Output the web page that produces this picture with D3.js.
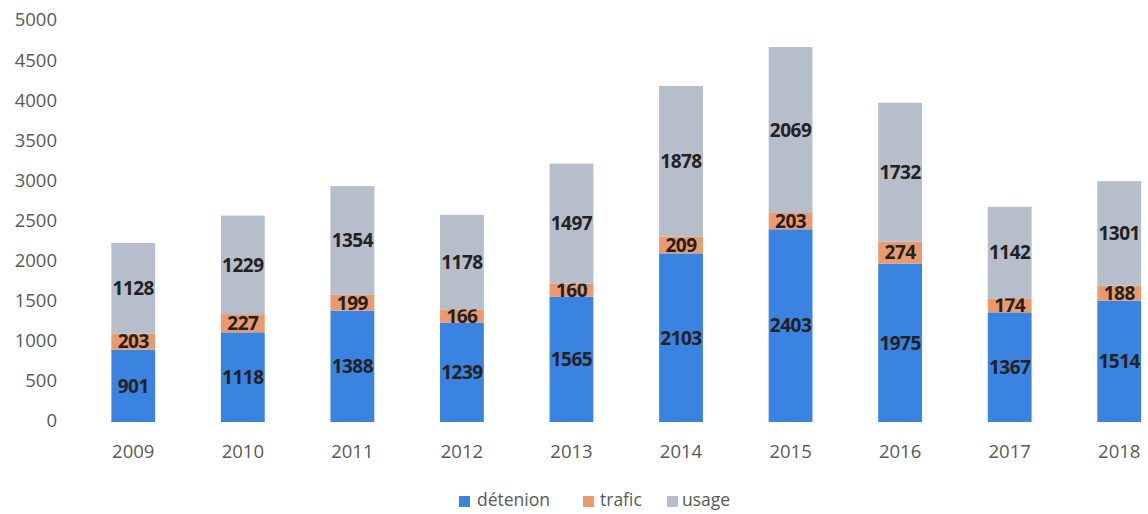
<!DOCTYPE html>
<html><head><meta charset="utf-8">
<script src="https://cdn.jsdelivr.net/npm/d3@7"></script>
<style>body{margin:0;background:#fff;overflow:hidden}svg{display:block}</style>
</head><body><svg id="c" width="1148" height="514"></svg>
<script>
const years = ["2009","2010","2011","2012","2013","2014","2015","2016","2017","2018"];
const detenion = [901,1118,1388,1239,1565,2103,2403,1975,1367,1514];
const trafic = [203,227,199,166,160,209,203,274,174,188];
const usage = [1128,1229,1354,1178,1497,1878,2069,1732,1142,1301];
const yTicks = [0,500,1000,1500,2000,2500,3000,3500,4000,4500,5000];
const seriesNames = ["détenion","trafic","usage"];
const colors = ["#3b83e0","#ea9a6e","#b6bdcb"];

const svg = d3.select("#c");
const font = "'Open Sans', sans-serif";
const x = d3.scaleBand().domain(years).range([78.5, 1174]).paddingInner(0.6).paddingOuter(0.3);
const y = d3.scaleLinear().domain([0,5000]).range([422,21]);

const rows = years.map((yr,i)=>({year:yr, "détenion":detenion[i], "trafic":trafic[i], "usage":usage[i]}));
const stack = d3.stack().keys(seriesNames)(rows);

const yAxis = d3.axisLeft(y).tickValues(yTicks).tickFormat(d3.format("d")).tickSize(0).tickPadding(0);
const ga = svg.append("g").attr("transform","translate(57,-1)").call(yAxis);
ga.select(".domain").remove();
ga.selectAll("text").attr("font-family",font).attr("font-size",18.5).attr("fill","#595959");

const xAxis = d3.axisBottom(x).tickSize(0).tickPadding(0);
const gx = svg.append("g").attr("transform","translate(0,445)").call(xAxis);
gx.select(".domain").remove();
gx.selectAll("text").attr("font-family",font).attr("font-size",18.5).attr("fill","#595959");

stack.forEach((s,si)=>{
  const g = svg.append("g");
  g.selectAll("rect").data(s).join("rect")
    .attr("x",d=>x(d.data.year)).attr("width",x.bandwidth())
    .attr("y",d=>y(d[1])).attr("height",d=>y(d[0])-y(d[1]))
    .attr("fill",colors[si]);
  g.selectAll("text").data(s).join("text")
    .attr("x",d=>x(d.data.year)+x.bandwidth()/2)
    .attr("y",d=>y((d[0]+d[1])/2))
    .attr("dy","0.36em").attr("text-anchor","middle")
    .attr("font-family",font).attr("font-weight","bold").attr("font-size",19).attr("fill","#222222")
    .attr("letter-spacing","-0.5")
    .text(d=>d[1]-d[0]);
});

// legend
const lg = svg.append("g").attr("transform","translate(0,500)");
const items = [{n:"détenion",x:459,tx:477},{n:"trafic",x:583,tx:600},{n:"usage",x:667,tx:682}];
items.forEach((it,i)=>{
  lg.append("rect").attr("x",it.x).attr("y",-4).attr("width",11).attr("height",11).attr("fill",colors[i]);
  lg.append("text").attr("x",it.tx).attr("y",0).attr("dy","0.36em")
    .attr("font-family",font).attr("font-size",17.5).attr("fill","#595959").text(it.n);
});
</script></body></html>
